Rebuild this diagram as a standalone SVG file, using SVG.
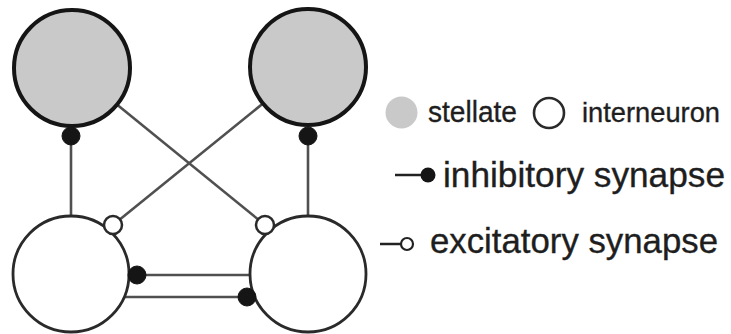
<svg xmlns="http://www.w3.org/2000/svg" width="731" height="334" viewBox="0 0 731 334">
<style>
.stellate{fill:#c9c9c9;stroke:#151515;stroke-width:4}
.inter{fill:#fff;stroke:#2a2a2a;stroke-width:2.8}
.conn{stroke:#505050;stroke-width:2.6;fill:none}
.inh{fill:#151515;stroke:#151515;stroke-width:1}
.exc{fill:#fff;stroke:#2a2a2a;stroke-width:2.5}
.lbl{font-family:"Liberation Sans",Arial,sans-serif;fill:#1e1e1e;stroke:#1e1e1e;stroke-width:0.35}
</style>
<rect width="731" height="334" fill="#fff"/>
<g id="connectors">
<line class="conn" x1="71" y1="136" x2="71" y2="216"/>
<line class="conn" x1="308" y1="136" x2="308" y2="216"/>
<line class="conn" x1="72" y1="68" x2="265" y2="225"/>
<line class="conn" x1="308" y1="67" x2="113" y2="225"/>
<line class="conn" x1="137" y1="275" x2="251" y2="275"/>
<line class="conn" x1="124" y1="297" x2="247" y2="297"/>
</g>
<g id="stellate-left"><circle class="stellate" cx="72" cy="68" r="58"/></g>
<g id="stellate-right"><circle class="stellate" cx="308" cy="67" r="58"/></g>
<g id="interneuron-left"><circle class="inter" cx="71" cy="274" r="58"/></g>
<g id="interneuron-right"><circle class="inter" cx="308" cy="274" r="58"/></g>
<g id="synapses">
<circle class="inh" cx="71" cy="136" r="9"/>
<circle class="inh" cx="308" cy="136" r="9"/>
<circle class="exc" cx="113" cy="225" r="9"/>
<circle class="exc" cx="265" cy="225" r="9"/>
<circle class="inh" cx="137" cy="275" r="9"/>
<circle class="inh" cx="247" cy="297" r="9"/>
</g>
<g id="legend">
<circle cx="401.5" cy="112.5" r="16" fill="#c9c9c9"/>
<text class="lbl" x="428" y="122" font-size="29" textLength="89" lengthAdjust="spacingAndGlyphs">stellate</text>
<circle cx="549" cy="113" r="15" fill="#fff" stroke="#2a2a2a" stroke-width="2.6"/>
<text class="lbl" x="582" y="122" font-size="28.5" textLength="138" lengthAdjust="spacingAndGlyphs">interneuron</text>
<line x1="395" y1="175" x2="427" y2="175" stroke="#222" stroke-width="2.5"/>
<circle cx="428" cy="175" r="7.5" fill="#151515"/>
<text class="lbl" x="443" y="187" font-size="35" textLength="282" lengthAdjust="spacingAndGlyphs">inhibitory synapse</text>
<line x1="380" y1="244" x2="401" y2="244" stroke="#222" stroke-width="2.5"/>
<circle cx="407" cy="244" r="6" fill="#fff" stroke="#222" stroke-width="2.2"/>
<text class="lbl" x="430" y="253" font-size="35" textLength="288" lengthAdjust="spacingAndGlyphs">excitatory synapse</text>
</g>
</svg>
